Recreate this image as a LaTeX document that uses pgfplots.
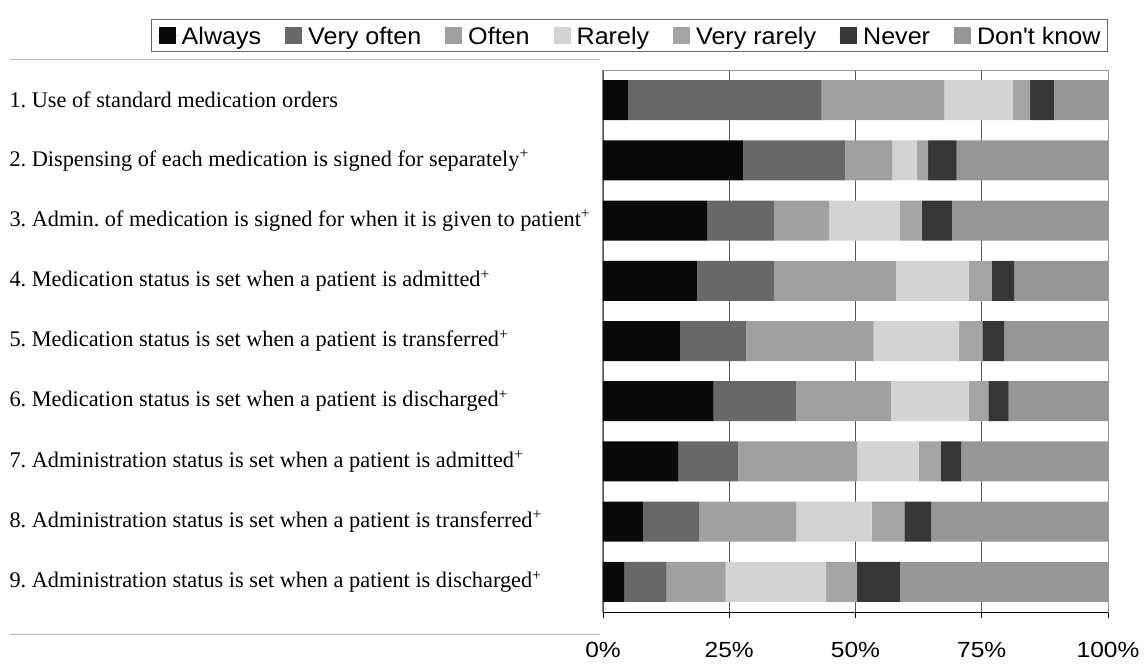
\documentclass[border=0pt]{standalone}
\usepackage{fontspec}
\setmainfont{Liberation Serif}
\newfontfamily\legfont[FakeStretch=1.05]{Liberation Sans}
\newfontfamily\tickfont[FakeStretch=1.12]{Liberation Sans}
\usepackage{pgfplots}
\usepackage{pgfplotstable}
\pgfplotsset{compat=1.18}
\definecolor{cAlways}{HTML}{0A0A0A}
\definecolor{cVeryOften}{HTML}{686868}
\definecolor{cOften}{HTML}{A0A0A0}
\definecolor{cRarely}{HTML}{D3D3D3}
\definecolor{cVeryRarely}{HTML}{A4A4A4}
\definecolor{cNever}{HTML}{363636}
\definecolor{cDontKnow}{HTML}{969696}
\pgfplotstableread{
id a vo o r vr n dk
1 5.0 38.3 24.3 13.6 3.4 4.7 10.7
2 27.8 20.2 9.3 4.9 2.2 5.6 30.0
3 20.6 13.3 10.9 14.0 4.3 6.0 30.9
4 18.7 15.2 24.1 14.4 4.6 4.4 18.6
5 15.2 13.2 25.2 16.9 4.6 4.4 20.5
6 21.9 16.4 18.7 15.4 3.9 4.0 19.7
7 14.9 11.8 23.6 12.2 4.4 4.0 29.1
8 7.9 11.2 19.2 14.9 6.5 5.3 35.0
9 4.2 8.4 11.7 19.9 6.1 8.5 41.2
}\data
\begin{document}
\frenchspacing
\begin{tikzpicture}
\useasboundingbox (0,0) rectangle (1146bp,664bp);
\begin{axis}[
  at={(603bp,52bp)}, anchor=south west,
  scale only axis, width=505bp, height=542bp,
  xbar stacked, bar width=40bp,
  xmin=0, xmax=100, ymin=0.5, ymax=9.5, y dir=reverse,
  xtick={0,25,50,75,100},
  xticklabels={0\%,25\%,50\%,75\%,100\%},
  ytick={1,2,3,4,5,6,7,8,9},
  yticklabels={
    1. Use of standard medication orders,
    2. Dispensing of each medication is signed for separately\textsuperscript{+},
    3. Admin. of medication is signed for when it is given to patient\textsuperscript{+},
    4. Medication status is set when a patient is admitted\textsuperscript{+},
    5. Medication status is set when a patient is transferred\textsuperscript{+},
    6. Medication status is set when a patient is discharged\textsuperscript{+},
    7. Administration status is set when a patient is admitted\textsuperscript{+},
    8. Administration status is set when a patient is transferred\textsuperscript{+},
    9. Administration status is set when a patient is discharged\textsuperscript{+}},
  xmajorgrids,
  major grid style={draw=black!65, line width=0.8bp},
  axis line style={draw=black!40, line width=1bp},
  xtick pos=left,
  ytick style={draw=none},
  x tick style={draw=black, line width=0.8bp},
  xtick align=outside, major tick length=6bp,
  xticklabel style={font=\tickfont\fontsize{22}{24}\selectfont, yshift=-21bp},
  yticklabel style={font=\fontsize{22.4}{24}\selectfont\frenchspacing, anchor=west, xshift=-597bp},
  legend columns=-1,
  legend style={at={(1,1)}, anchor=south east, yshift=18bp,
    font=\legfont\fontsize{24}{26}\selectfont, draw=black!60, line width=1bp,
    inner xsep=5bp, inner ysep=4bp,
    /tikz/every even column/.append style={column sep=20bp}},
  legend image code/.code={\path (0bp,0bp) -- (23bp,0bp);\fill[#1] (2bp,-8.5bp) rectangle (19bp,8.5bp);},
  every axis plot/.append style={draw=none},
]
\addplot[fill=cAlways] table[x=a, y=id] {\data};
\addplot[fill=cVeryOften] table[x=vo, y=id] {\data};
\addplot[fill=cOften] table[x=o, y=id] {\data};
\addplot[fill=cRarely] table[x=r, y=id] {\data};
\addplot[fill=cVeryRarely] table[x=vr, y=id] {\data};
\addplot[fill=cNever] table[x=n, y=id] {\data};
\addplot[fill=cDontKnow] table[x=dk, y=id] {\data};
\legend{\strut Always, \strut Very often, \strut Often, \strut Rarely, \strut Very rarely, \strut Never, \strut Don't know}
\draw[black, line width=1bp] (axis description cs:0,0) -- (axis description cs:0,1);
\draw[black, line width=1bp] (axis description cs:0,0) -- (axis description cs:1,0);
\end{axis}
\draw[black!30, line width=1bp] (10bp,604bp) -- (600bp,604bp);
\draw[black!30, line width=1bp] (10bp,29bp) -- (600bp,29bp);
\end{tikzpicture}
\end{document}
